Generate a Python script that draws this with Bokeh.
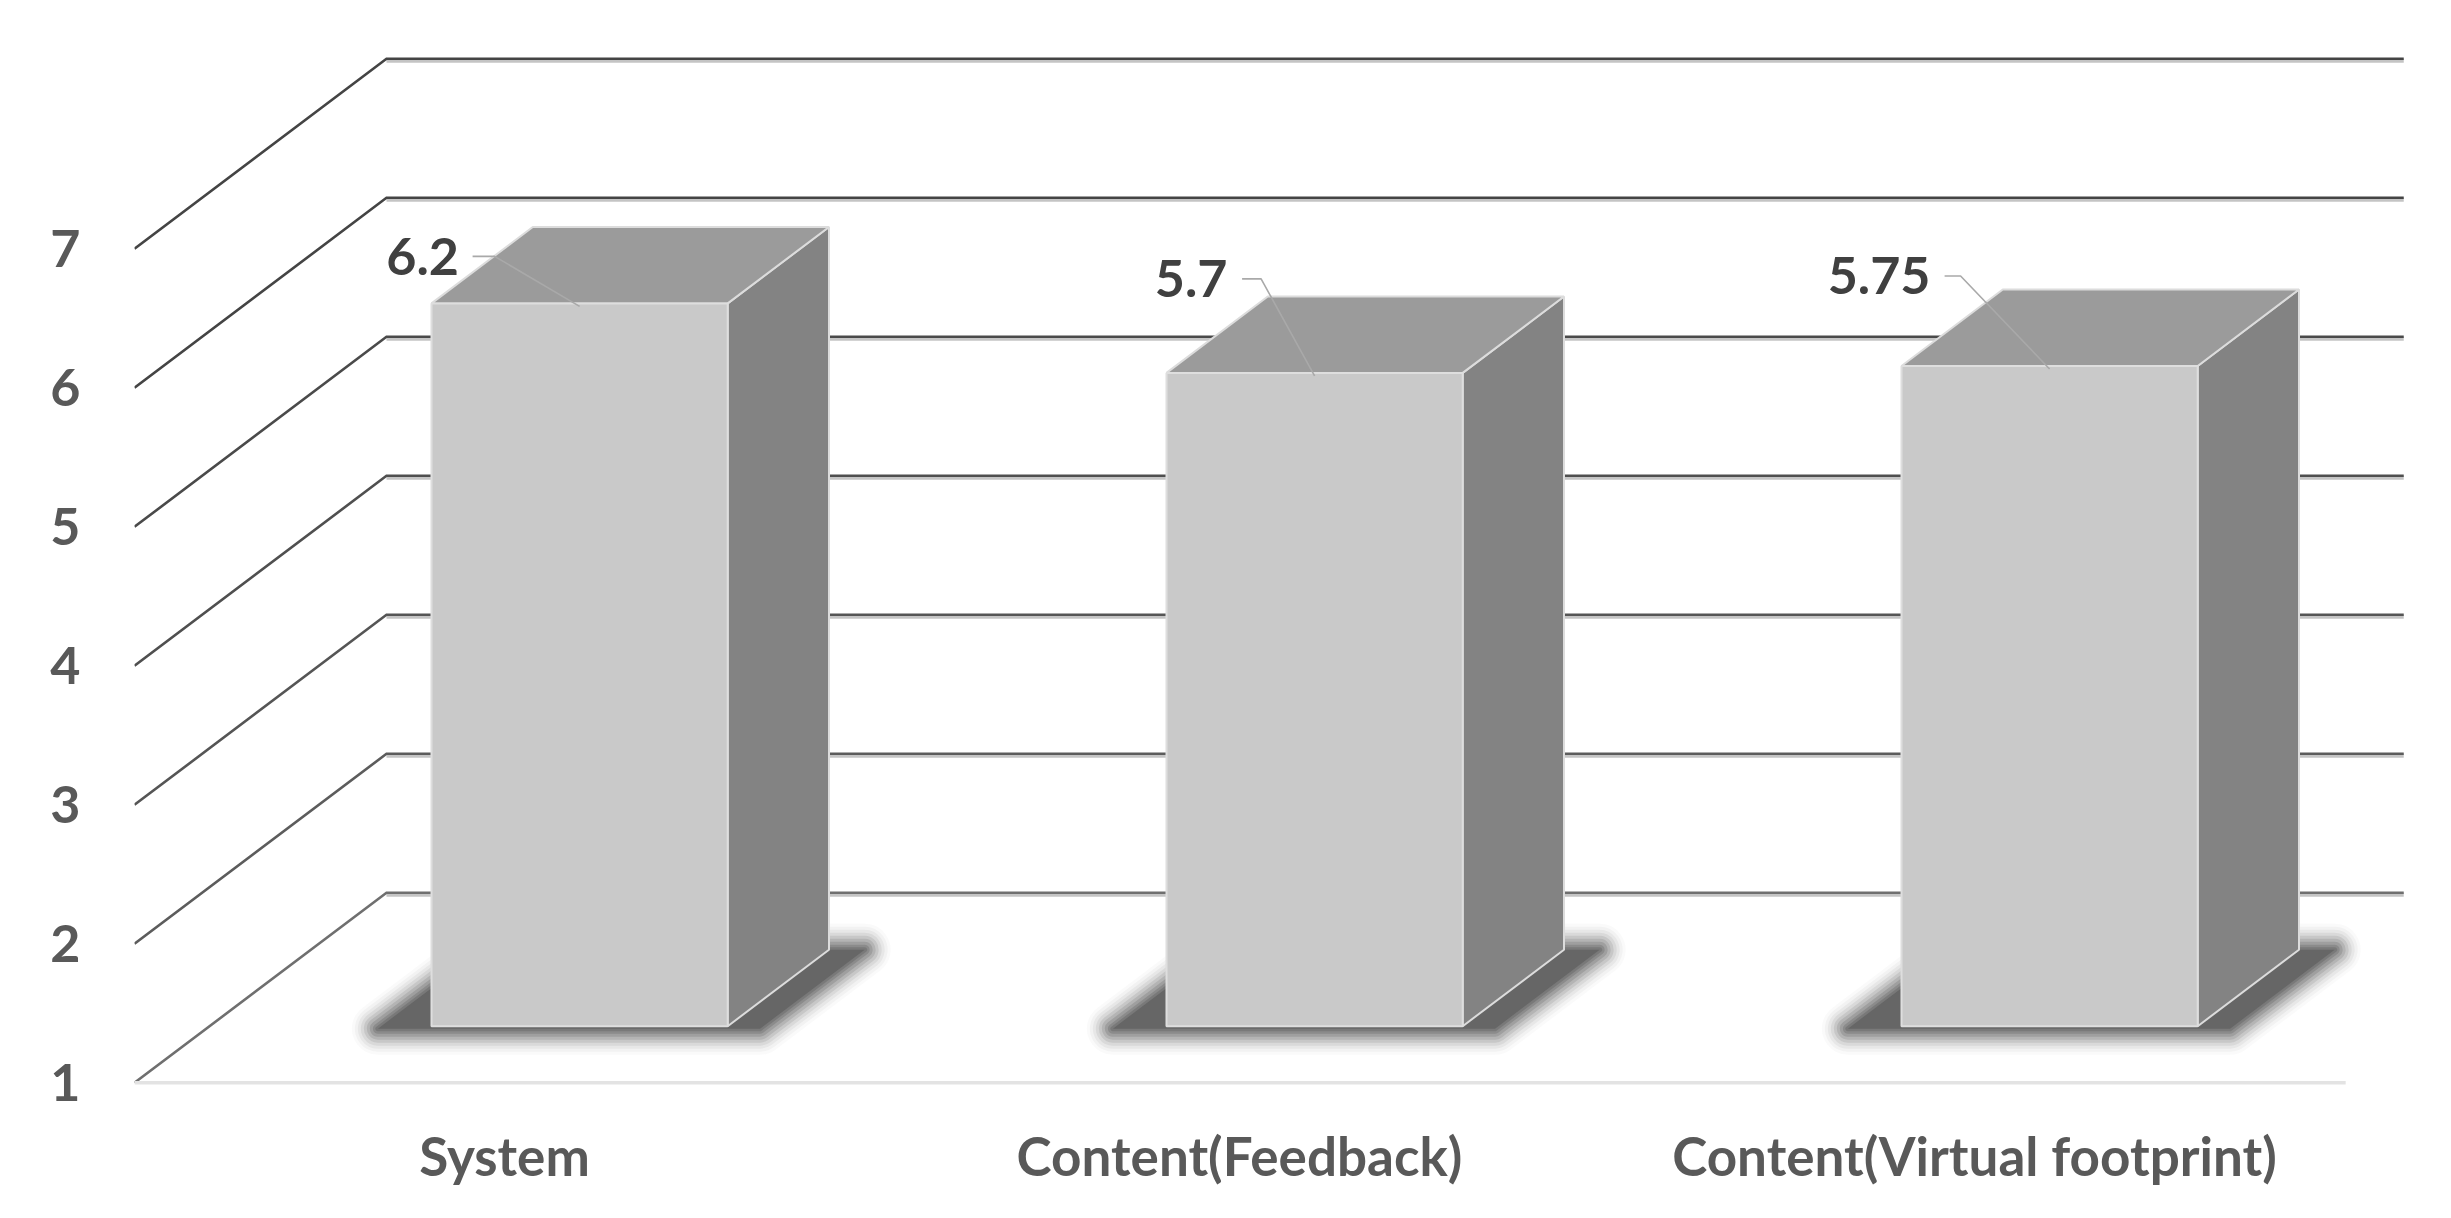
from bokeh.plotting import figure
from bokeh.models import Range1d, FixedTicker, ColumnDataSource
from bokeh.core.properties import value
from bokeh.embed import file_html
from bokeh.resources import INLINE

categories = ["System", "Content(Feedback)", "Content(Virtual footprint)"]
scores = [6.2, 5.7, 5.75]
y_ticks = [1, 2, 3, 4, 5, 6, 7]
score_labels = ["6.2", "5.7", "5.75"]

# pixel scales (screen px per data unit) and oblique projection
PX_X, PX_Y = 735.0, 139.0
DEPTH_X, DEPTH_Y = 252 / PX_X, 190 / PX_Y
BAR_W = 0.403
D0, D1 = 0.298, 0.70
WALL_END = 2.584
FLOOR_START, FLOOR_END = -0.5034, 2.505

def px_x(i, d):
    return i + d * DEPTH_X

def px_y(v, d):
    return v + d * DEPTH_Y

# frame placement in page pixels
L, R, T, B = 134, 2430, 30, 1090
X0_PX, V1_PX = 504, 1082.3
x_range = Range1d((L - X0_PX) / PX_X, (R - X0_PX) / PX_X)
y_range = Range1d(1 + (V1_PX - B) / PX_Y, 1 + (V1_PX - T) / PX_Y)

W, H = 2435, 1202
p = figure(width=W, height=H, x_range=x_range, y_range=y_range,
           output_backend="svg", toolbar_location=None,
           min_border_left=L, min_border_right=W - R,
           min_border_top=T, min_border_bottom=H - B)
p.outline_line_color = None
p.grid.visible = False
p.background_fill_color = "white"
p.border_fill_color = "white"

FONT = "Lato"
p.yaxis.ticker = FixedTicker(ticks=y_ticks)
p.yaxis.axis_line_color = None
p.yaxis.major_tick_line_color = None
p.yaxis.minor_tick_line_color = None
p.yaxis.major_label_standoff = 48
p.yaxis.major_label_text_font = FONT
p.yaxis.major_label_text_font_size = "52px"
p.yaxis.major_label_text_color = "#595959"
p.yaxis.major_label_text_font_style = "bold"

p.xaxis.ticker = FixedTicker(ticks=list(range(len(categories))))
p.xaxis.major_label_overrides = {i: c for i, c in enumerate(categories)}
p.xaxis.axis_line_color = None
p.xaxis.major_tick_line_color = None
p.xaxis.minor_tick_line_color = None
p.xaxis.major_label_standoff = 27
p.xaxis.major_label_text_font = FONT
p.xaxis.major_label_text_font_size = "53px"
p.xaxis.major_label_text_color = "#595959"
p.xaxis.major_label_text_font_style = "bold"

# gridlines: diagonal then back wall (lower lines are paler)
line_colors = ["#6f6f6f", "#5c5c5c", "#555555", "#4f4f4f", "#4a4a4a", "#444444", "#444444"]
gx = [[FLOOR_START, px_x(FLOOR_START, 1), WALL_END] for _ in y_ticks]
gy = [[v, px_y(v, 1), px_y(v, 1)] for v in y_ticks]
wx = [[px_x(FLOOR_START, 1), WALL_END] for _ in y_ticks]
wy = [[px_y(v, 1), px_y(v, 1)] for v in y_ticks]
wy_shadow = [[a - 2 / PX_Y, b - 2 / PX_Y] for a, b in wy]
p.multi_line(wx, wy_shadow, line_color="#c4c4c4", line_width=4)
p.multi_line(gx, gy, line_color=line_colors, line_width=2.6, line_join="miter")
p.line([FLOOR_START, FLOOR_END], [1, 1], line_color="#e3e3e3", line_width=3.5)

# floor shadows (stacked translucent strokes give the soft edge)
sd0, sd1, su_l, su_r = 0.285, 0.70, 0.27, 0.25
sxs = [[px_x(i - su_l, sd0), px_x(i + su_r, sd0), px_x(i + su_r, sd1), px_x(i - su_l, sd1)]
       for i in range(len(categories))]
sys_ = [[px_y(1, sd0), px_y(1, sd0), px_y(1, sd1), px_y(1, sd1)]
        for _ in categories]
for lw, a in [(52, 0.03), (46, 0.05), (40, 0.07), (34, 0.1), (28, 0.14), (22, 0.18),
              (16, 0.24), (10, 0.3), (5, 0.4)]:
    p.patches(sxs, sys_, fill_color=None, line_color="#5e5e5e", line_alpha=a,
              line_width=lw, line_join="round")
p.patches(sxs, sys_, fill_color="#666666", line_color=None)

# bars
idx = list(range(len(categories)))
fx = [[i - BAR_W / 2, i + BAR_W / 2, i + BAR_W / 2, i - BAR_W / 2] for i in idx]
front_x = [[px_x(a, D0) for a in q] for q in fx]
front_y = [[px_y(1, D0), px_y(1, D0), px_y(s, D0), px_y(s, D0)] for s in scores]
top_x = [[px_x(i - BAR_W / 2, D0), px_x(i + BAR_W / 2, D0),
          px_x(i + BAR_W / 2, D1), px_x(i - BAR_W / 2, D1)] for i in idx]
top_y = [[px_y(s, D0), px_y(s, D0), px_y(s, D1), px_y(s, D1)] for s in scores]
side_x = [[px_x(i + BAR_W / 2, D0), px_x(i + BAR_W / 2, D1),
           px_x(i + BAR_W / 2, D1), px_x(i + BAR_W / 2, D0)] for i in idx]
side_y = [[px_y(1, D0), px_y(1, D1), px_y(s, D1), px_y(s, D0)] for s in scores]
p.patches(side_x, side_y, fill_color="#838383", line_color="#dcdcdc", line_width=2)
p.patches(top_x, top_y, fill_color="#9b9b9b", line_color="#dcdcdc", line_width=2)
p.patches(front_x, front_y, fill_color="#c9c9c9", line_color="#dedede", line_width=2)

# data labels and leader lines
cx = [px_x(i, D0) for i in idx]
cy = [px_y(s, D0) for s in scores]
label_dx = [-157, -123.5, -170.5]
label_dy = [-47, -94, -90]
knee_dx = [-85, -53.5, -89]
tail_dx = [-107, -72.5, -105]
lx = [[c + t / PX_X, c + k / PX_X, c] for c, t, k in zip(cx, tail_dx, knee_dx)]
ly = [[c - d / PX_Y, c - d / PX_Y, c - 3 / PX_Y] for c, d in zip(cy, label_dy)]
p.multi_line(lx, ly, line_color="#a9a9a9", line_width=1.6)
src = ColumnDataSource(dict(x=cx, y=cy, t=score_labels, dx=label_dx, dy=label_dy))
p.text("x", "y", text="t", source=src, x_offset="dx", y_offset="dy",
       text_align="center", text_baseline="middle",
       text_font=value(FONT), text_font_size="52px", text_font_style="bold",
       text_color="#404040")

open("out.html", "w").write(file_html(p, INLINE))
